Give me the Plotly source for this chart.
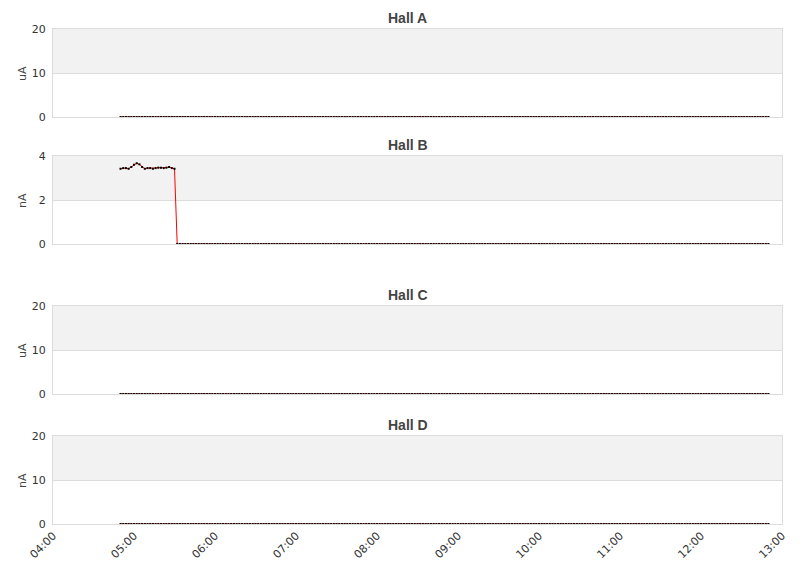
import pandas as pd
import plotly.graph_objects as go
from plotly.subplots import make_subplots

# ---- data ----
times = pd.date_range("2024-01-01 04:50", "2024-01-01 12:50", freq="2min")
n = len(times)

hall_names = ["Hall A", "Hall B", "Hall C", "Hall D"]
units = ["uA", "nA", "uA", "nA"]
y_max = [20, 4, 20, 20]
y_ticks = [[0, 10, 20], [0, 2, 4], [0, 10, 20], [0, 10, 20]]

hall_a = [0.0] * n
hall_b_start = [3.42, 3.45, 3.45, 3.42, 3.5, 3.6, 3.67, 3.62, 3.5, 3.42,
                3.45, 3.45, 3.42, 3.45, 3.47, 3.47, 3.45, 3.47, 3.5, 3.45, 3.42]
hall_b = hall_b_start + [0.0] * (n - len(hall_b_start))
hall_c = [0.0] * n
hall_d = [0.0] * n
series = [hall_a, hall_b, hall_c, hall_d]

x_range = ["2024-01-01 04:00", "2024-01-01 13:00"]

# ---- layout geometry (pixels, page has an 8px body margin) ----
W, H = 811, 578
OFF = 8
plot_left, plot_right = 53 - OFF, 782 - OFF
rows_px = [(29 - OFF, 117 - OFF), (156 - OFF, 244 - OFF),
           (306 - OFF, 394 - OFF), (436 - OFF, 524 - OFF)]
title_px = [18 - OFF, 145 - OFF, 295 - OFF, 425 - OFF]
ytitle_x = 22 - OFF

fig = make_subplots(rows=4, cols=1)

grid_col = "#dcdcdc"
band_col = "#f2f2f2"
font_fam = "DejaVu Sans, Liberation Sans, Arial, sans-serif"

for i in range(4):
    r = i + 1
    fig.add_trace(go.Scatter(x=times, y=series[i], mode="lines",
                             line=dict(color="#ff0000", width=1),
                             hoverinfo="skip", showlegend=False), row=r, col=1)
    fig.add_trace(go.Scatter(x=times, y=series[i], mode="markers",
                             marker=dict(color="#000000", size=2, symbol="square",
                                         line=dict(width=0)),
                             cliponaxis=False, showlegend=False), row=r, col=1)
    top, bot = rows_px[i]
    ydom = [1 - bot / H, 1 - top / H]
    xa = "xaxis" if r == 1 else f"xaxis{r}"
    ya = "yaxis" if r == 1 else f"yaxis{r}"
    fig.layout[xa].update(
        domain=[plot_left / W, plot_right / W], range=x_range, type="date",
        showgrid=False, showline=True, mirror=True, linecolor=grid_col, linewidth=1,
        zeroline=False, ticks="", dtick=3600000, tickformat="%H:%M",
        showticklabels=(r == 4), tickangle=-45, automargin=False,
        tickfont=dict(family=font_fam, size=11, color="#333333"),
        layer="above traces",
    )
    fig.layout[ya].update(
        domain=ydom, range=[0, y_max[i]], tickvals=y_ticks[i],
        showgrid=True, gridcolor=grid_col, gridwidth=1,
        showline=True, mirror=True, linecolor=grid_col, linewidth=1,
        zeroline=False, ticks="", ticklabelstandoff=4, automargin=False,
        tickfont=dict(family=font_fam, size=11, color="#333333"),
        layer="above traces",
    )
    # upper shaded band
    xref = "x domain" if r == 1 else f"x{r} domain"
    yref = "y" if r == 1 else f"y{r}"
    fig.add_shape(type="rect", xref=xref, yref=yref, x0=0, x1=1,
                  y0=y_ticks[i][1], y1=y_ticks[i][2],
                  fillcolor=band_col, line=dict(width=0), layer="below")
    # title
    fig.add_annotation(text="<b>" + hall_names[i] + "</b>", xref="paper", yref="paper",
                       x=(811 / 2 + 2 - OFF) / W, y=1 - title_px[i] / H,
                       xanchor="center", yanchor="middle", showarrow=False,
                       font=dict(family="Liberation Sans, Arial, sans-serif", size=14, color="#444444"))
    # y axis title
    fig.add_annotation(text=units[i], xref="paper", yref="paper",
                       x=ytitle_x / W, y=1 - (top + bot) / 2 / H, xanchor="center", yanchor="middle",
                       textangle=-90, showarrow=False,
                       font=dict(family=font_fam, size=11, color="#444444"))

fig.update_layout(width=W, height=H, margin=dict(l=0, r=0, t=0, b=0),
                  paper_bgcolor="white", plot_bgcolor="white", showlegend=False)

fig.write_html("out.html")
